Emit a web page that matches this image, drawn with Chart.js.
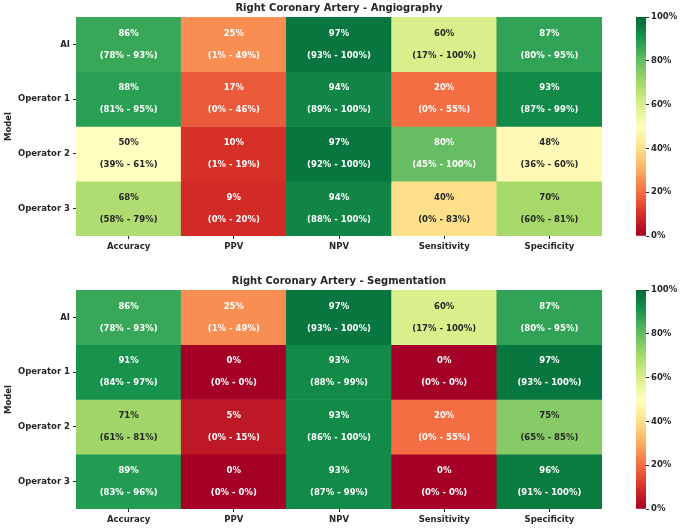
<!DOCTYPE html>
<html>
<head>
<meta charset="utf-8">
<script src="https://cdn.jsdelivr.net/npm/chart.js@4.4.1/dist/chart.umd.min.js"></script>
<style>
  body { margin: 0; background: #fff; width: 681px; height: 529px; overflow: hidden; }
  canvas { position: absolute; }
</style>
</head>
<body>
<canvas id="angio" style="left:0;top:0" width="678" height="262"></canvas>
<canvas id="angioBar" style="left:620px;top:0" width="61" height="262"></canvas>
<canvas id="seg" style="left:0;top:262px" width="678" height="267"></canvas>
<canvas id="segBar" style="left:620px;top:262px" width="61" height="267"></canvas>
<script>
// -- Data --
const metrics = ['Accuracy', 'PPV', 'NPV', 'Sensitivity', 'Specificity'];
const models = ['AI', 'Operator 1', 'Operator 2', 'Operator 3'];
const colorbarTicks = [0, 20, 40, 60, 80, 100];

// Angiography: value, CI low, CI high (rows = models, cols = metrics)
const angioVal = [
  [86, 25, 97, 60, 87],
  [88, 17, 94, 20, 93],
  [50, 10, 97, 80, 48],
  [68, 9, 94, 40, 70]
];
const angioLo = [
  [78, 1, 93, 17, 80],
  [81, 0, 89, 0, 87],
  [39, 1, 92, 45, 36],
  [58, 0, 88, 0, 60]
];
const angioHi = [
  [93, 49, 100, 100, 95],
  [95, 46, 100, 55, 99],
  [61, 19, 100, 100, 60],
  [79, 20, 100, 83, 81]
];

// Segmentation
const segVal = [
  [86, 25, 97, 60, 87],
  [91, 0, 93, 0, 97],
  [71, 5, 93, 20, 75],
  [89, 0, 93, 0, 96]
];
const segLo = [
  [78, 1, 93, 17, 80],
  [84, 0, 88, 0, 93],
  [61, 0, 86, 0, 65],
  [83, 0, 87, 0, 91]
];
const segHi = [
  [93, 49, 100, 100, 95],
  [97, 0, 99, 0, 100],
  [81, 15, 100, 55, 85],
  [96, 0, 99, 0, 100]
];

// -- RdYlGn colormap --
const RDYLGN = ['#a50026', '#d73027', '#f46d43', '#fdae61', '#fee08b', '#ffffbf',
                '#d9ef8b', '#a6d96a', '#66bd63', '#1a9850', '#006837'];
const hexRgb = h => [1, 3, 5].map(i => parseInt(h.substr(i, 2), 16));

function cmap(t) {
  t = Math.max(0, Math.min(1, t));
  const p = t * (RDYLGN.length - 1);
  const i = Math.min(Math.floor(p), RDYLGN.length - 2);
  const f = p - i;
  const a = hexRgb(RDYLGN[i]), b = hexRgb(RDYLGN[i + 1]);
  return a.map((v, k) => Math.round(v + (b[k] - v) * f));
}
const rgbStr = c => `rgb(${c[0]},${c[1]},${c[2]})`;

// seaborn-style text colour: dark on light cells, white on dark cells
function textColor(c) {
  const lin = c.map(v => { v /= 255; return v <= 0.03928 ? v / 12.92 : Math.pow((v + 0.055) / 1.055, 2.4); });
  const lum = 0.2126 * lin[0] + 0.7152 * lin[1] + 0.0722 * lin[2];
  return lum > 0.408 ? '#262626' : '#ffffff';
}

const FONT = "'DejaVu Sans', sans-serif";
const DARK = '#262626';

// -- Heatmap (floating bars, one dataset per model row) --
function makeHeatmap(id, title, vals, lo, hi, titleTop, xAxisH) {
  const cellText = {
    id: 'cellText',
    afterDatasetsDraw(chart) {
      const ctx = chart.ctx;
      ctx.save();
      ctx.textAlign = 'center';
      ctx.textBaseline = 'middle';
      ctx.font = `bold 8.5px ${FONT}`;
      chart.data.datasets.forEach((ds, r) => {
        chart.getDatasetMeta(r).data.forEach((el, c) => {
          const cy = (el.y + el.base) / 2;
          ctx.fillStyle = textColor(cmap(vals[r][c] / 100));
          ctx.fillText(vals[r][c] + '%', el.x, cy - 11);
          ctx.fillText(`(${lo[r][c]}% - ${hi[r][c]}%)`, el.x, cy + 11);
        });
      });
      ctx.restore();
    }
  };

  return new Chart(document.getElementById(id), {
    type: 'bar',
    data: {
      labels: metrics,
      datasets: models.map((m, r) => ({
        label: m,
        data: metrics.map(() => [r, r + 1]),
        backgroundColor: vals[r].map(v => rgbStr(cmap(v / 100))),
        borderWidth: 0,
        borderSkipped: false,
        grouped: false,
        barPercentage: 1,
        categoryPercentage: 1
      }))
    },
    options: {
      responsive: false,
      animation: false,
      layout: { padding: { left: 4, right: 4, top: 0, bottom: 0 } },
      plugins: {
        legend: { display: false },
        tooltip: { enabled: false },
        title: {
          display: true,
          text: title,
          color: DARK,
          font: { family: FONT, size: 10, weight: 'bold' },
          padding: { top: titleTop, bottom: 3 }
        }
      },
      scales: {
        x: {
          type: 'category',
          grid: { display: true, offset: false, drawOnChartArea: false, drawTicks: true, tickLength: 3, color: DARK },
          border: { display: false },
          ticks: { color: DARK, font: { family: FONT, size: 8.5, weight: 'bold' }, padding: 3, maxRotation: 0 },
          afterFit: ax => { ax.height = xAxisH; }
        },
        y: {
          type: 'linear',
          min: 0,
          max: models.length,
          reverse: true,
          afterBuildTicks: ax => { ax.ticks = models.map((_, i) => ({ value: i + 0.5 })); },
          ticks: {
            autoSkip: false,
            color: DARK,
            font: { family: FONT, size: 8.5, weight: 'bold' },
            padding: 3,
            callback: v => models[Math.floor(v)]
          },
          grid: { display: true, drawOnChartArea: false, drawTicks: true, tickLength: 3, color: DARK },
          border: { display: false },
          title: { display: true, text: 'Model', color: DARK, font: { family: FONT, size: 8.5, weight: 'bold' }, padding: 0 },
          afterFit: ax => { ax.width = 72; }
        },
        // empty right axis, same width as the left one, so the title centres over the cells
        yPad: {
          type: 'linear',
          position: 'right',
          ticks: { display: false },
          grid: { display: false },
          border: { display: false },
          afterFit: ax => { ax.width = 72; }
        }
      }
    },
    plugins: [cellText]
  });
}

// -- Colour bar --
function makeColorbar(id, topPad, bottomPad) {
  return new Chart(document.getElementById(id), {
    type: 'bar',
    data: {
      labels: [''],
      datasets: [{
        data: [[colorbarTicks[0], colorbarTicks[colorbarTicks.length - 1]]],
        borderWidth: 0,
        borderSkipped: false,
        barPercentage: 1,
        categoryPercentage: 1,
        backgroundColor: ctx => {
          const area = ctx.chart.chartArea;
          if (!area) return null;
          const g = ctx.chart.ctx.createLinearGradient(0, area.bottom, 0, area.top);
          RDYLGN.forEach((c, i) => g.addColorStop(i / (RDYLGN.length - 1), c));
          return g;
        }
      }]
    },
    options: {
      responsive: false,
      animation: false,
      layout: { padding: { left: 16, right: 0, top: topPad, bottom: bottomPad } },
      plugins: { legend: { display: false }, tooltip: { enabled: false } },
      scales: {
        x: { display: false },
        y: {
          position: 'right',
          min: 0,
          max: 100,
          afterBuildTicks: ax => { ax.ticks = colorbarTicks.map(v => ({ value: v })); },
          ticks: { color: DARK, font: { family: FONT, size: 8.5, weight: 'bold' }, padding: 2, callback: v => v + '%' },
          grid: { display: true, drawOnChartArea: false, drawTicks: true, tickLength: 3, color: DARK },
          border: { display: false },
          afterFit: ax => { ax.width = 35; }
        }
      }
    }
  });
}

makeHeatmap('angio', 'Right Coronary Artery - Angiography', angioVal, angioLo, angioHi, 2, 26);
makeHeatmap('seg', 'Right Coronary Artery - Segmentation', segVal, segLo, segHi, 13, 20);
makeColorbar('angioBar', 17, 26);
makeColorbar('segBar', 28, 20);
</script>
</body>
</html>
